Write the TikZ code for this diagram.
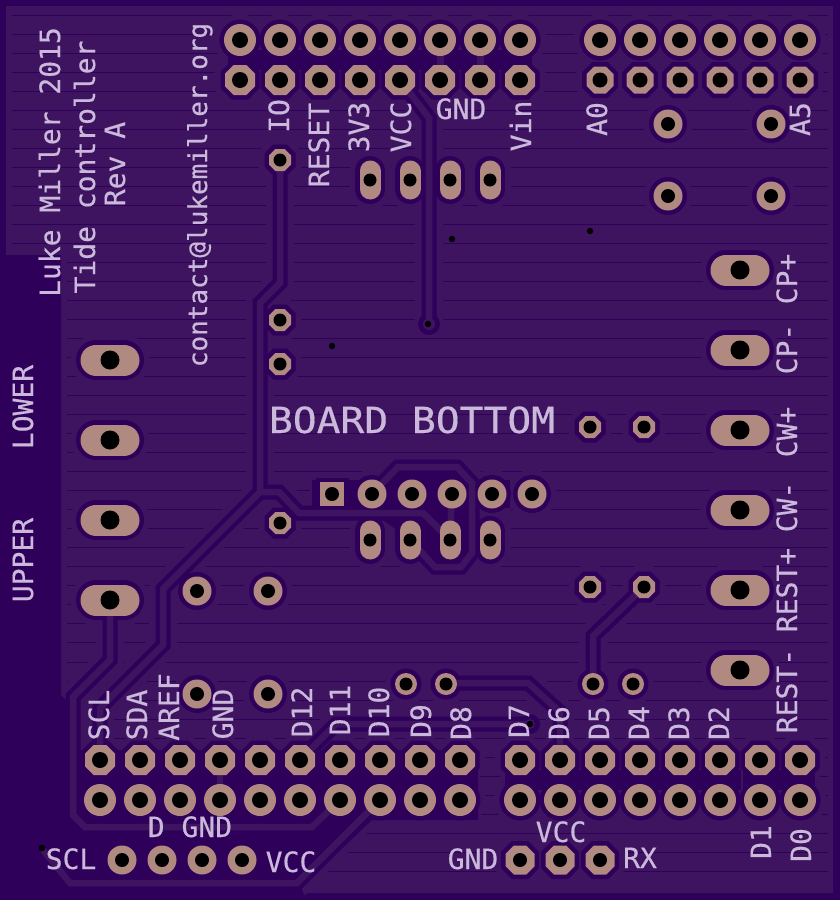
\documentclass[tikz,border=0pt]{standalone}
\usepackage{fontspec}
\setmonofont[FakeBold=0.4]{DejaVu Sans Mono}
\definecolor{bgdark}{HTML}{2F0059}
\definecolor{pour}{HTML}{3E1460}
\definecolor{copper}{HTML}{B08A80}
\definecolor{silk}{HTML}{CBB9DC}
\newif\ifholes
\def\grow{0}
\def\padcol{copper}
% pads: x y size hole
\newcommand{\RP}[4]{\ifholes\fill[black] (#1,#2) circle[radius=#4];\else\fill[\padcol] (#1,#2) circle[radius=#3+\grow];\fi}
\newcommand{\OP}[4]{\ifholes\fill[black] (#1,#2) circle[radius=#4];\else
  \pgfmathsetmacro\oa{#3+\grow}\pgfmathsetmacro\ob{0.43*\oa}
  \fill[\padcol] (#1+\oa,#2-\ob)--(#1+\oa,#2+\ob)--(#1+\ob,#2+\oa)--(#1-\ob,#2+\oa)--(#1-\oa,#2+\ob)--(#1-\oa,#2-\ob)--(#1-\ob,#2-\oa)--(#1+\ob,#2-\oa)--cycle;\fi}
\newcommand{\VP}[2]{\ifholes\fill[black] (#1,#2) circle[radius=6.5];\else
  \draw[\padcol,line width={2*(10.5+\grow)*1pt},line cap=round] (#1,#2-9)--(#1,#2+9);\fi}
\newcommand{\HP}[2]{\ifholes\fill[black] (#1,#2) circle[radius=9.5];\else
  \draw[\padcol,line width={2*(15.5+\grow)*1pt},line cap=round] (#1-14,#2)--(#1+14,#2);\fi}
\newcommand{\SP}[2]{\ifholes\fill[black] (#1,#2) circle[radius=7];\else
  \fill[\padcol] (#1-12-\grow,#2-12-\grow) rectangle (#1+12+\grow,#2+12+\grow);\fi}
\newcommand{\AllPads}{%
  \foreach \x in {240,280,...,520,600,640,...,800} {\RP{\x}{40}{16}{8}}
  \foreach \x in {240,280,...,520} {\OP{\x}{80}{15}{8}}
  \foreach \x in {600,640,...,800} {\OP{\x}{80}{13.5}{7.5}}
  \foreach \x/\y in {668/124,771/124,668/196,771/196} {\RP{\x}{\y}{14.5}{7}}
  \foreach \x in {370,410,450,490} {\VP{\x}{180}\VP{\x}{540}}
  \foreach \y in {270,350,430,510,590,670} {\HP{740}{\y}}
  \foreach \y in {360,440,520,600} {\HP{110}{\y}}
  \foreach \x/\y in {280/160,280/320,280/364,280/523,590/427,644/427,590/587,644/587} {\OP{\x}{\y}{11}{6.5}}
  \foreach \x/\y in {197/591,268/591,197/694,268/694} {\RP{\x}{\y}{14.5}{7}}
  \SP{332}{494}
  \foreach \x in {372,412,452,492,532} {\RP{\x}{494}{14.5}{7}}
  \foreach \x/\y in {406/684,446/684,593/684,633/684} {\RP{\x}{\y}{11}{6.5}}
  \foreach \x in {100,140,...,460,520,560,...,800} {\OP{\x}{760}{15}{8}\RP{\x}{800}{16}{8}}
  \foreach \x in {122,162,202,242} {\RP{\x}{860}{14.5}{7}}
  \foreach \x in {520,560,600} {\OP{\x}{860}{14.5}{7}}
}
\newcommand{\PadLayer}[2]{\def\grow{#1}\def\padcol{#2}\AllPads}
\newcommand{\Traces}[2]{%
  \begin{scope}[draw=#2,line width=#1pt,line join=miter]
  \draw (280,160)--(280,283)--(260,303)--(260,492)--(279,492)--(299,513)--(423,513)--(450,540);
  \draw (260,492)--(163,589)--(163,645)--(100,708)--(100,760);
  \draw (110,600)--(110,660)--(73,697)--(73,815)--(85,827)--(312,827)--(340,800);
  \draw (43,850)--(70,883)--(297,883)--(380,800);
  \draw (400,80)--(429,118)--(429,324);
  \draw (372,494)--(398,467)--(457,467)--(472,483)--(472,553)--(461,567)--(435,567)--(410,540);
  \draw (644,587)--(593,636)--(593,684);
  \draw (446,683)--(528,683)--(560,712)--(560,760);
  \draw (300,760)--(336,724)--(530,724);
  \end{scope}
}
\tikzset{
  silkh/.style={font=\ttfamily\fontsize{28}{28}\selectfont,text=silk,anchor=base,inner sep=0pt,outer sep=0pt},
  silkv/.style={silkh,rotate=90},
}
\begin{document}
\begin{tikzpicture}[x=1pt,y=-1pt]
\useasboundingbox (0,0) rectangle (840,900);
\fill[bgdark] (0,0) rectangle (840,900);
\fill[pour] (6,6) rectangle (833,893);
% hatching of the copper pour
\foreach \k in {0,...,45} {\draw[bgdark,line width=1pt] (12,{15+19.03*\k})--(828,{15+19.03*\k});}
% clearance of the hatching around traces and pads
\fill[pour] (55,255) rectangle (67,700);
\Traces{28}{pour}
\PadLayer{10}{pour}
% areas without copper
\fill[bgdark] (0,255)--(61,255)--(61,695)--(78,712)--(78,750)--(478,750)--(478,820)--(372,820)--(301,887)--(306,900)--(0,900)--cycle;
\fill[bgdark] (505,770) rectangle (740.5,790);
\fill[bgdark] (743,770) rectangle (815,790);
\fill[bgdark] (228,50) rectangle (532,70);
\fill[bgdark] (312,480) rectangle (510,508);
\fill[bgdark] (372,494)--(398,472)--(456,472)--(467,485)--(467,552)--(458,563)--(437,563)--(420,547)--(372,512)--cycle;
% traces
\Traces{15}{bgdark}
\PadLayer{4.5}{bgdark}
\fill[bgdark] (429,324) circle[radius=11];
\fill[bgdark] (530,724) circle[radius=10];
\fill[bgdark] (42,848) circle[radius=6];
\Traces{6.5}{pour}
\fill[pour] (429,324) circle[radius=6];
\fill[pour] (530,724) circle[radius=5];
\draw[pour,line width=6.5pt] (452,494)--(450,540);
\draw[pour,line width=7pt] (440,40)--(440,80);
\draw[pour,line width=7pt] (480,40)--(480,80);
\draw[pour,line width=6pt] (220,760)--(220,800);
% pads
\PadLayer{0}{copper}
\holestrue
\AllPads
\holesfalse
% small drills
\foreach \x/\y in {332/346,452/239,590/231,428/324,530/724,42/848} {\fill[black] (\x,\y) circle[radius=3.2];}
% texts
\node[silkv] (t1) at (60,162) {Luke Miller 2015};
\node[silkv] (t2) at (95,167) {Tide controller};
\node[silkv] (t3) at (125,164) {Rev A};
\node[silkv,font=\ttfamily\fontsize{26}{26}\selectfont] (t4) at (207,195) {contact@lukemiller.org};
\node[silkv] (t5) at (289,116) {IO};
\node[silkv] (t6) at (329,145) {RESET};
\node[silkv] (t7) at (369,127) {3V3};
\node[silkv] (t8) at (411,127) {VCC};
\node[silkh] (t9) at (461,119) {GND};
\node[silkv] (t10) at (531,126) {Vin};
\node[silkv] (t11) at (607,119) {A0};
\node[silkv] (t12) at (810,119) {A5};
\node[silkv] (t13) at (797,279) {CP+};
\node[silkv] (t14) at (797,349) {CP-};
\node[silkv] (t15) at (797,432) {CW+};
\node[silkv] (t16) at (797,507) {CW-};
\node[silkv] (t17) at (797,590) {REST+};
\node[silkv] (t18) at (797,691) {REST-};
\node[silkv] (t19) at (33,407) {LOWER};
\node[silkv] (t20) at (33,560) {UPPER};
\node[silkh,font=\ttfamily\fontsize{36}{36}\selectfont,xscale=1.1] (t21) at (412,433) {BOARD BOTTOM};
\node[silkv] (t22) at (109,715) {SCL};
\node[silkv] (t23) at (147,715) {SDA};
\node[silkv] (t24) at (179,707) {AREF};
\node[silkv] (t25) at (233,714) {GND};
\node[silkv] (t26) at (312,712) {D12};
\node[silkv] (t27) at (350,710) {D11};
\node[silkv] (t28) at (389,712) {D10};
\node[silkv] (t29) at (431,721) {D9};
\node[silkv] (t30) at (471,723) {D8};
\node[silkv] (t31) at (529,721) {D7};
\node[silkv] (t32) at (569,723) {D6};
\node[silkv] (t33) at (609,723) {D5};
\node[silkv] (t34) at (649,723) {D4};
\node[silkv] (t35) at (689,723) {D3};
\node[silkv] (t36) at (729,723) {D2};
\node[silkv] (t37) at (771,842) {D1};
\node[silkv] (t38) at (811,845) {D0};
\node[silkh] (t39) at (190,837) {D GND};
\node[silkh] (t40) at (71,869) {SCL};
\node[silkh] (t41) at (291,872) {VCC};
\node[silkh] (t42) at (561,842) {VCC};
\node[silkh] (t43) at (473,869) {GND};
\node[silkh] (t44) at (640,868) {RX};
\end{tikzpicture}
\end{document}
